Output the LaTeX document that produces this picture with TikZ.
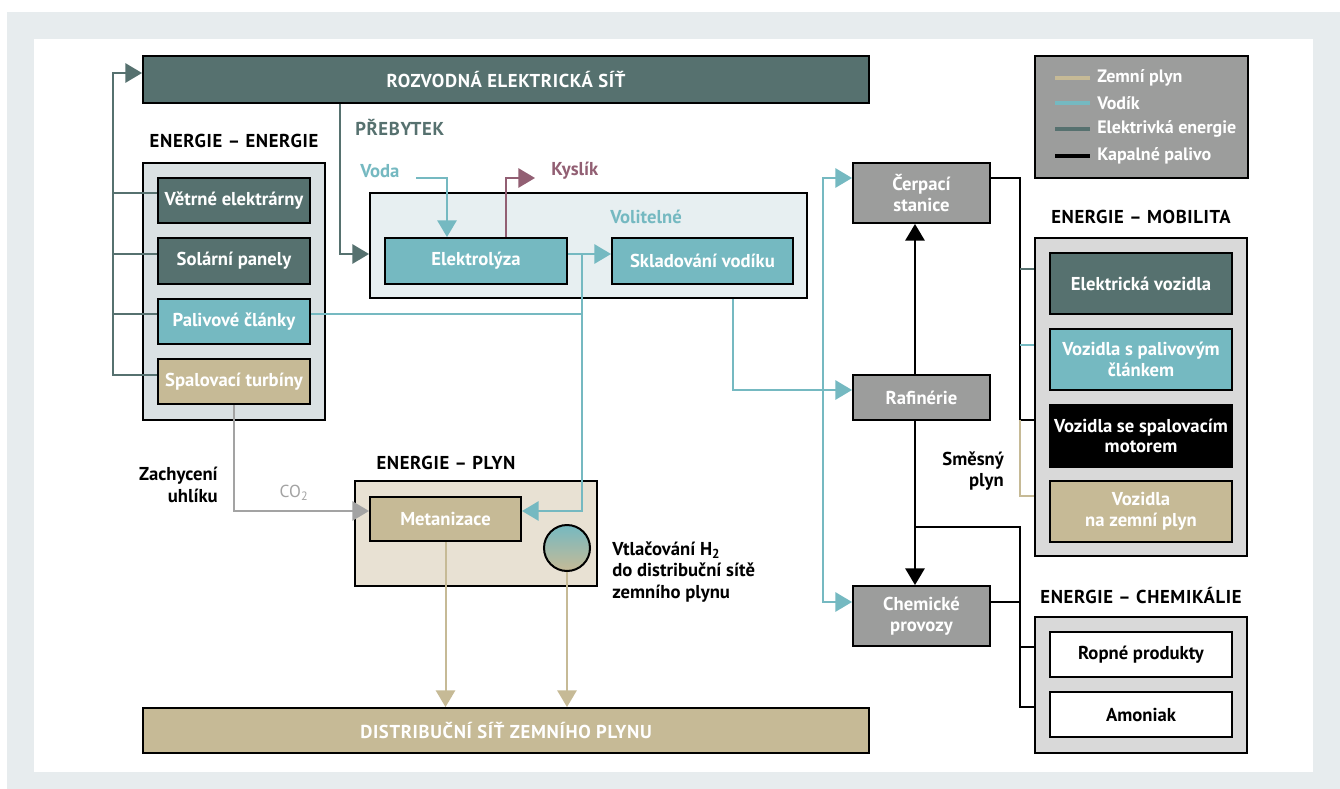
\documentclass[tikz,border=0pt]{standalone}
\usepackage{fontspec}
\setmainfont{PT Sans}
\newfontfamily\capsfont[LetterSpace=3.5]{PT Sans}
\usetikzlibrary{arrows.meta,calc}
\definecolor{slate}{HTML}{56716F}
\definecolor{hteal}{HTML}{75B9C1}
\definecolor{ngtan}{HTML}{C6BA96}
\definecolor{mauve}{HTML}{925F73}
\definecolor{boxgray}{HTML}{9C9D9C}
\definecolor{eefill}{HTML}{DAE1E3}
\definecolor{optfill}{HTML}{E7EFF1}
\definecolor{gasfill}{HTML}{E8E1D3}
\definecolor{mobfill}{HTML}{D9D9D9}
\definecolor{bgframe}{HTML}{E7ECEE}
\definecolor{co2gray}{HTML}{A3A3A3}
% box from corner (x1,y1) to (x2,y2), in pixels
\newcommand\mkbox[7]{%
  \pgfmathsetmacro\mkW{(#5-#3)*0.75}%
  \pgfmathsetmacro\mkH{(#6-#4)*0.75}%
  \node[#1,minimum width=\mkW pt,minimum height=\mkH pt] (#2) at ({(#3+#5)/2},{(#4+#6)/2}) {#7};}
\begin{document}
\begin{tikzpicture}[x=0.75pt,y=-0.75pt,
 box/.style={draw=black,line width=1.5pt,inner sep=0pt,text=white,font=\bfseries\fontsize{14}{15.5}\selectfont,align=center},
 capbox/.style={box,font=\capsfont\bfseries\fontsize{14}{15.5}\selectfont},
 grp/.style={draw=black,line width=1.5pt,inner sep=0pt},
 heading/.style={font=\capsfont\bfseries\fontsize{14}{16}\selectfont,inner sep=0pt},
 lbl/.style={font=\bfseries\fontsize{14}{16}\selectfont,inner sep=0pt},
 conn/.style={line width=1.5pt},
 arr/.style={-{Triangle[length=12.5pt,width=14.5pt]}},
 legline/.style={line width=3pt},
 legtext/.style={anchor=west,inner sep=0pt,text=white,font=\bfseries\fontsize{13.5}{15}\selectfont},
]
\useasboundingbox (0,0) rectangle (1340,789);
\fill[bgframe] (7,12) rectangle (1340,789);
\fill[white] (34,39) rectangle (1313,772);

% top grid
\mkbox{capbox,fill=slate}{grid}{143}{56}{869}{103}{ROZVODNÁ ELEKTRICKÁ SÍŤ}

% legend
\mkbox{grp,fill=boxgray}{legend}{1035}{56}{1248}{178}{}
\draw[legline,ngtan] (1055,78) -- (1090,78);
\draw[legline,hteal] (1055,103) -- (1090,103);
\draw[legline,slate] (1055,129) -- (1090,129);
\draw[legline,black] (1055,156) -- (1090,156);
\node[legtext] (l1) at (1097,78) {Zemní plyn};
\node[legtext] (l2) at (1097,103) {Vodík};
\node[legtext] (l3) at (1097,129) {Elektrivká energie};
\node[legtext] (l4) at (1097,156) {Kapalné palivo};

% energie - energie
\node[heading] (eeh) at (234,141) {ENERGIE – ENERGIE};
\mkbox{grp,fill=eefill}{ee}{143}{163}{325}{420}{}
\mkbox{box,fill=slate}{wind}{158}{178}{310}{223}{Větrné elektrárny}
\mkbox{box,fill=slate}{solar}{158}{238}{310}{284}{Solární panely}
\mkbox{box,fill=hteal}{fc}{158}{299}{310}{344}{Palivové články}
\mkbox{box,fill=ngtan}{turb}{158}{359}{310}{404}{Spalovací turbíny}

% optional
\node[heading,text=slate,anchor=west] (preb) at (355,127) {PŘEBYTEK};
\mkbox{grp,fill=optfill}{opt}{370}{193}{807}{298}{}
\node[lbl,text=hteal] (volt) at (646,217) {Volitelné};
\mkbox{box,fill=hteal}{elec}{385}{238}{567}{284}{Elektrolýza}
\mkbox{box,fill=hteal}{stor}{612}{238}{793}{284}{Skladování vodíku}
\node[lbl,text=hteal,anchor=west] (voda) at (360,171) {Voda};
\node[lbl,text=mauve,anchor=west] (kysl) at (551,171) {Kyslík};

% gray column
\mkbox{box,fill=boxgray}{pump}{853}{163}{990}{223}{Čerpací\\stanice}
\mkbox{box,fill=boxgray}{refin}{853}{375}{990}{420}{Rafinérie}
\mkbox{box,fill=boxgray}{chem}{853}{586}{990}{646}{Chemické\\provozy}

% mobility
\node[heading] (mobh) at (1141,217) {ENERGIE – MOBILITA};
\mkbox{grp,fill=mobfill}{mob}{1035}{238}{1247}{556}{}
\mkbox{box,fill=slate}{ev}{1050}{253}{1232}{314}{Elektrická vozidla}
\mkbox{box,fill=hteal}{fcv}{1050}{329}{1232}{390}{Vozidla s palivovým\\článkem}
\mkbox{box,fill=black}{icev}{1050}{405}{1232}{467}{Vozidla se spalovacím\\motorem}
\mkbox{box,fill=ngtan}{ngv}{1050}{481}{1232}{542}{Vozidla\\na zemní plyn}

% chemicals
\node[heading] (chemh) at (1141,596) {ENERGIE – CHEMIKÁLIE};
\mkbox{grp,fill=mobfill}{chb}{1035}{617}{1247}{753}{}
\mkbox{box,fill=white,text=black}{oil}{1050}{632}{1232}{677}{Ropné produkty}
\mkbox{box,fill=white,text=black}{amm}{1050}{692}{1232}{737}{Amoniak}

% gas
\node[heading] (gash) at (446,463) {ENERGIE – PLYN};
\mkbox{grp,fill=gasfill}{gas}{355}{481}{597}{586}{}
\mkbox{box,fill=ngtan}{meth}{370}{497}{521}{541}{Metanizace}
\node[circle,draw=black,line width=1.5pt,top color=hteal,bottom color=ngtan,minimum size=34.5pt,inner sep=0pt] (inj) at (567,548) {};
\node[lbl,anchor=west,align=left] (injt) at (612,572) {Vtlačování H\textsubscript{2}\\do distribuční sítě\\zemního plynu};
\mkbox{capbox,fill=ngtan}{dist}{143}{708}{869}{753}{DISTRIBUČNÍ SÍŤ ZEMNÍHO PLYNU}

\node[lbl,anchor=east,align=right] (zach) at (218,485) {Zachycení\\uhlíku};
\node[text=co2gray,inner sep=0pt,font=\fontsize{13}{15}\selectfont] (co2) at (294,493) {CO\textsubscript{2}};
\node[lbl,anchor=east,align=right] (smes) at (1004,471) {Směsný\\plyn};

% electricity connectors
\coordinate (lbus) at (113,73);
\draw[conn,slate,arr] (turb.west |- 0,375) -| (lbus) -- (grid.west |- lbus);
\draw[conn,slate] (wind.west |- 0,193) -- (lbus |- 0,193);
\draw[conn,slate] (solar.west |- 0,254) -- (lbus |- 0,254);
\draw[conn,slate] (fc.west |- 0,314) -- (lbus |- 0,314);
\draw[conn,slate,arr] (grid.south -| 340,0) |- (opt.west |- 0,254);

% water, oxygen, hydrogen
\coordinate (vin) at (416,178);
\draw[conn,hteal,arr] (vin) -| (elec.north -| 447,0);
\coordinate (kout) at (535,178);
\draw[conn,mauve,arr] (elec.north -| 506,0) |- (kout);
\coordinate (h2) at (582,254);
\draw[conn,hteal,arr] (elec.east |- h2) -- (stor.west |- h2);
\draw[conn,hteal,arr] (h2) |- (meth.east |- 0,511);
\draw[conn,hteal] (fc.east |- 0,314) -- (h2 |- 0,314);
\draw[conn,hteal,arr] (opt.south -| 733,0) |- (refin.west |- 0,390);
\coordinate (tj) at (823,390);
\draw[conn,hteal,arr] (tj) |- (pump.west |- 0,178);
\draw[conn,hteal,arr] (tj) |- (chem.west |- 0,602);

% liquid fuel
\draw[conn,arr] (refin.north -| 915,0) -- (pump.south -| 915,0);
\draw[conn,arr] (refin.south -| 915,0) -- (chem.north -| 915,0);
\coordinate (cj) at (915,527);
\coordinate (cb) at (1020,707);
\draw[conn] (cj) -| (cb) -- (chb.west |- cb);
\draw[conn] (chem.east |- 0,602) -- (cb |- 0,602);
\draw[conn] (cb |- 0,647) -- (chb.west |- 0,647);
\coordinate (mb) at (1020,420);
\draw[conn] (pump.east |- 0,178) -| (mb) -- (mob.west |- mb);
\draw[conn,slate] (mb |- 0,269) -- (mob.west |- 0,269);
\draw[conn,hteal] (mb |- 0,345) -- (mob.west |- 0,345);
\draw[conn,ngtan] (mb) |- (mob.west |- 0,496);

% CO2 and gas
\draw[conn,co2gray,arr] (turb.south) |- (meth.west |- 0,511);
\draw[conn,ngtan,arr] (meth.south) -- (meth.south |- dist.north);
\draw[conn,ngtan,arr] (inj.south) -- (inj.south |- dist.north);
\end{tikzpicture}
\end{document}
